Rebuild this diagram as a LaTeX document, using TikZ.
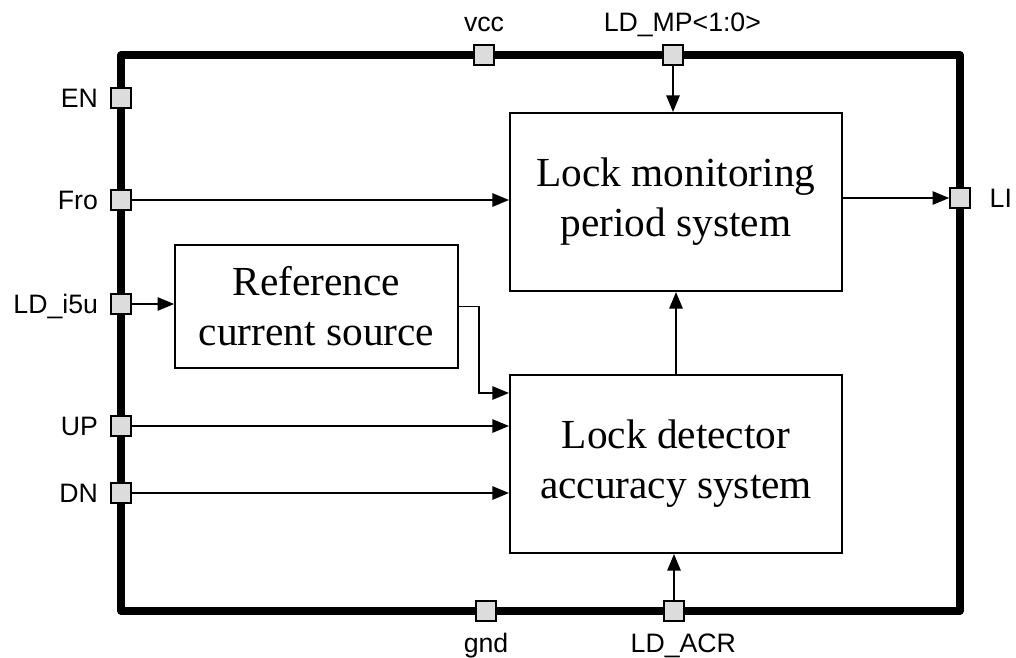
\documentclass[tikz,border=0pt]{standalone}
\usepackage{fontspec}
\setmainfont{Liberation Serif}
\newfontfamily\pinfont{Liberation Sans}
\usepackage{tikz}
\usetikzlibrary{arrows.meta, positioning, calc}
\definecolor{pingray}{HTML}{DCDCDC}

\begin{document}
\begin{tikzpicture}[x=0.75pt, y=-0.75pt,
  blk/.style={draw, line width=1.5pt, align=center, font=\fontsize{31}{37.5}\selectfont},
  pin/.style={draw, fill=pingray, line width=1.2pt, minimum size=15pt, inner sep=0pt},
  lbl/.style={font=\pinfont\fontsize{20}{24}\selectfont, inner sep=0pt, text height=14.5pt, text depth=0pt},
  arr/.style={-{Triangle[length=12.5pt, width=10pt]}, line width=1.4pt}]
\useasboundingbox (0,0) rectangle (1016,657);

% Frame
\draw[line width=5.5pt, line join=round] (121,55) rectangle (960,611);

% Blocks
\node[blk, minimum width=249pt, minimum height=133.5pt] (mon) at (676,202) {Lock monitoring\\period system};
\node[blk, minimum width=249pt, minimum height=133.5pt] (det) at (676,464) {Lock detector\\accuracy system};
\node[blk, minimum width=212pt, minimum height=92pt] (ref) at (316.5,306.5) {Reference\\current source};

% Pins
\node[pin, label={[lbl, label distance=9pt]left:EN}] (en) at (121,98) {};
\node[pin, label={[lbl, label distance=9pt]left:Fro}] (fro) at (121,200) {};
\node[pin, label={[lbl, label distance=9pt]left:LD\_i5u}] (ldi) at (121,304) {};
\node[pin, label={[lbl, label distance=9pt]left:UP}] (up) at (121,426) {};
\node[pin, label={[lbl, label distance=9pt]left:DN}] (dn) at (121,493) {};
\node[pin, label={[lbl, label distance=9pt]above:vcc}] (vcc) at (484,55) {};
\node[pin, label={[lbl, label distance=9pt, xshift=7pt]above:LD\_MP<1:0>}] (ldmp) at (673,55) {};
\node[pin, label={[lbl, label distance=8.5pt]below:gnd}] (gnd) at (486,611) {};
\node[pin, label={[lbl, label distance=8.5pt, xshift=7pt]below:LD\_ACR}] (ldacr) at (674,611) {};
\node[pin, label={[lbl, label distance=14pt]right:LI}] (li) at (960,198) {};

% Connections
\draw[arr] (fro.east) -- (fro -| mon.west);
\draw[arr] (ldmp.south) -- (ldmp.south |- mon.north);
\draw[arr] (mon.east |- li) -- (li.west);
\draw[arr] (ldi.east) -- (ldi -| ref.west);
\draw[arr] (ref.east) -- ++(20,0) |- ($(det.north west)+(0,19)$);
\draw[arr] (up.east) -- (up -| det.west);
\draw[arr] (dn.east) -- (dn -| det.west);
\draw[arr] (det.north) -- (mon.south);
\draw[arr] (ldacr.north) -- (ldacr.north |- det.south);
\end{tikzpicture}
\end{document}
